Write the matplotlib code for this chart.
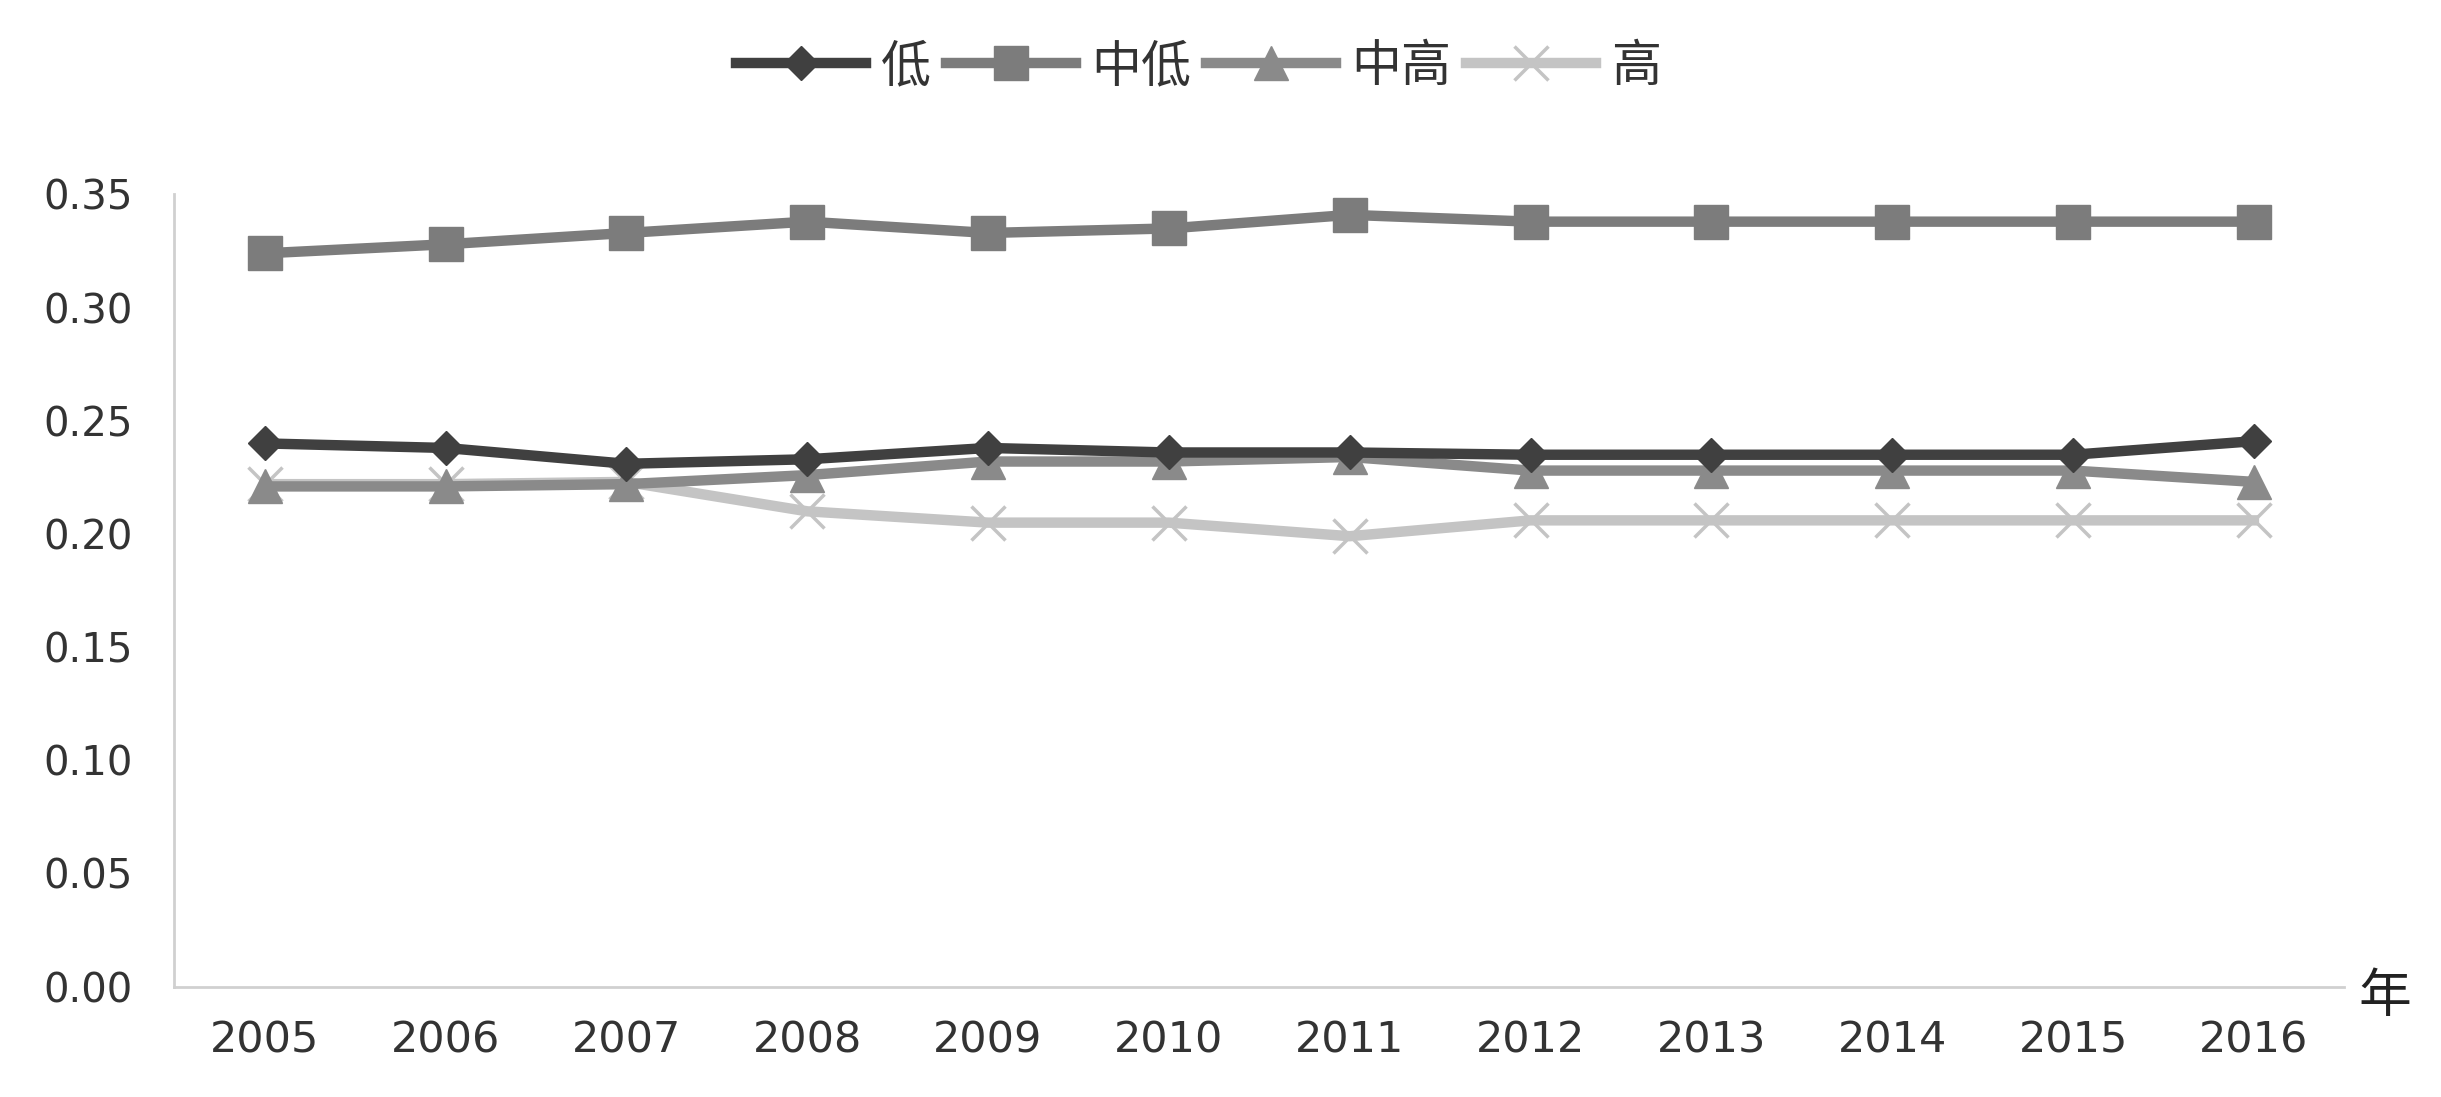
import matplotlib
matplotlib.use("Agg")
import matplotlib.pyplot as plt
import numpy as np

plt.rcParams['font.family'] = ['DejaVu Sans', 'Noto Sans CJK SC']

years = ["2005", "2006", "2007", "2008", "2009", "2010",
         "2011", "2012", "2013", "2014", "2015", "2016"]
low = [0.240, 0.238, 0.231, 0.233, 0.238, 0.236, 0.236, 0.235, 0.235, 0.235, 0.235, 0.241]
mid_low = [0.324, 0.328, 0.333, 0.338, 0.333, 0.335, 0.341, 0.338, 0.338, 0.338, 0.338, 0.338]
mid_high = [0.221, 0.221, 0.222, 0.226, 0.232, 0.232, 0.234, 0.228, 0.228, 0.228, 0.228, 0.223]
high = [0.222, 0.222, 0.223, 0.210, 0.205, 0.205, 0.199, 0.206, 0.206, 0.206, 0.206, 0.206]
series_names = ["低", "中低", "中高", "高"]
y_ticks = [0.00, 0.05, 0.10, 0.15, 0.20, 0.25, 0.30, 0.35]

fig = plt.figure(figsize=(24.41, 10.97), dpi=100)
ax = fig.add_axes([0.0714, 0.1007, 0.889, 0.722])

x = np.arange(len(years))
ax.plot(x, high, color="#c4c4c4", lw=7.5, marker="x", ms=24, mew=2.5,
        label=series_names[3], zorder=2)
ax.plot(x, mid_high, color="#8a8a8a", lw=7.5, marker="^", ms=24,
        label=series_names[2], zorder=3)
ax.plot(x, low, color="#404040", lw=7.5, marker="D", ms=17,
        label=series_names[0], zorder=4)
ax.plot(x, mid_low, color="#7c7c7c", lw=7.5, marker="s", ms=24,
        label=series_names[1], zorder=3)

ax.set_xlim(-0.5, len(years) - 0.5)
ax.set_ylim(0, 0.35)
ax.set_xticks(x)
ax.set_xticklabels(years)
ax.set_yticks(y_ticks)
ax.set_yticklabels([f"{v:.2f}" for v in y_ticks])
ax.tick_params(axis='both', length=0, labelcolor="#333333")
ax.tick_params(axis='y', pad=30, labelsize=29)
ax.tick_params(axis='x', pad=24, labelsize=31)
for s in ["top", "right"]:
    ax.spines[s].set_visible(False)
for s in ["left", "bottom"]:
    ax.spines[s].set_color("#d0d0d0")
    ax.spines[s].set_linewidth(2)

fig.text(0.966, 0.092, "年", fontsize=38, family=['Noto Sans CJK SC', 'DejaVu Sans'],
         color="#222222", ha="left", va="center")

handles, labels = ax.get_legend_handles_labels()
order = [2, 3, 1, 0]
leg = fig.legend([handles[i] for i in order], [labels[i] for i in order],
                 loc="center", bbox_to_anchor=(0.491, 0.939), ncol=4, frameon=False,
                 prop={'family': ['Noto Sans CJK SC', 'DejaVu Sans'], 'size': 36},
                 handlelength=2.6, handletextpad=0.3, columnspacing=0.3)
for t in leg.get_texts():
    t.set_color("#333333")

fig.savefig("out.png", dpi=100, facecolor="white")
